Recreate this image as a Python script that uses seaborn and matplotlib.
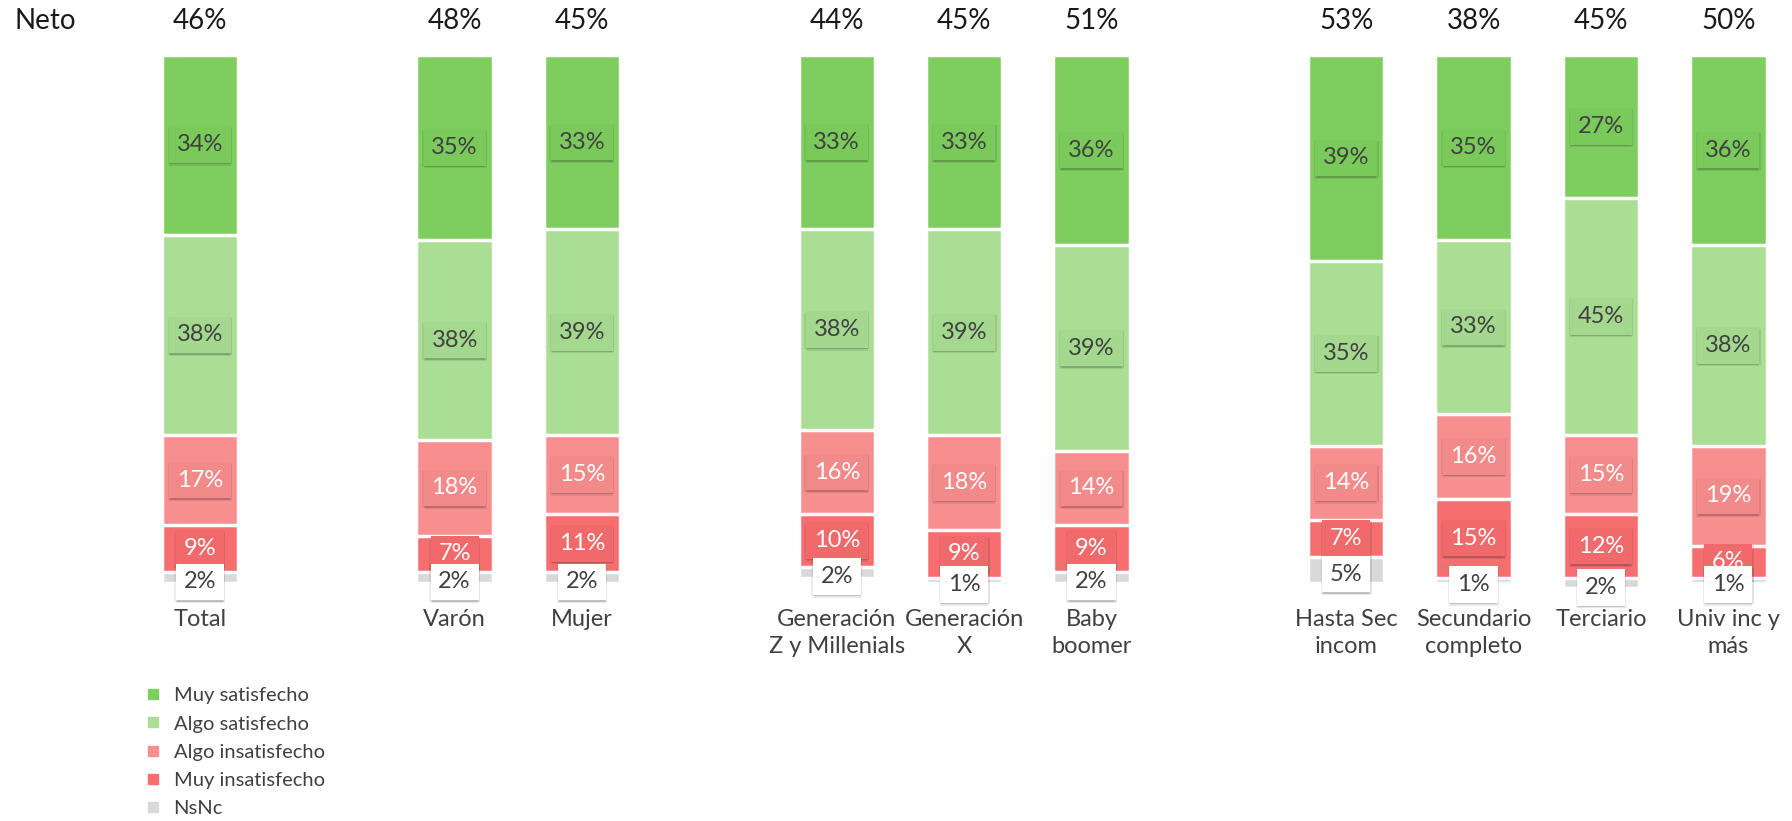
import pandas as pd
import matplotlib.pyplot as plt
import matplotlib.patheffects as pe
from matplotlib.lines import Line2D
import seaborn as sns

sns.set_theme(style="white")
plt.rcParams['font.family'] = ['Lato', 'DejaVu Sans']

# data
categories = ["Total", "Varón", "Mujer",
              "Generación\nZ y Millenials", "Generación\nX", "Baby\nboomer",
              "Hasta Sec\nincom", "Secundario\ncompleto", "Terciario", "Univ inc y\nmás"]
series = ["Muy satisfecho", "Algo satisfecho", "Algo insatisfecho", "Muy insatisfecho", "NsNc"]
muy_satisfecho = [34, 35, 33, 33, 33, 36, 39, 35, 27, 36]
algo_satisfecho = [38, 38, 39, 38, 39, 39, 35, 33, 45, 38]
algo_insatisfecho = [17, 18, 15, 16, 18, 14, 14, 16, 15, 19]
muy_insatisfecho = [9, 7, 11, 10, 9, 9, 7, 15, 12, 6]
nsnc = [2, 2, 2, 2, 1, 2, 5, 1, 2, 1]
neto = ["46%", "48%", "45%", "44%", "45%", "51%", "53%", "38%", "45%", "50%"]

colors = ["#7DCE5E", "#A9DE94", "#F88F8F", "#F66E70", "#D9D9D9"]
text_colors = ["#404040", "#404040", "white", "white", "#404040"]
box_colors = ["#79C95B", "#A4D88F", "#F28A8A", "#F0696B", "white"]

# spacer slots between groups
order = ["Total", " ", "Varón", "Mujer", "  ",
         categories[3], categories[4], categories[5], "   ",
         categories[6], categories[7], categories[8], categories[9]]

df = pd.DataFrame({"cat": categories,
                   series[0]: muy_satisfecho, series[1]: algo_satisfecho,
                   series[2]: algo_insatisfecho, series[3]: muy_insatisfecho,
                   series[4]: nsnc})
cum = df[series].cumsum(axis=1)
for s in series:
    df["cum_" + s] = cum[s]

fig = plt.figure(figsize=(17.92, 8.21), dpi=100)
ax = fig.add_axes([0.076, 0.277, 0.924, 0.656])

# stacked bars: draw deepest cumulative first
for s, c in reversed(list(zip(series, colors))):
    sns.barplot(data=df, x="cat", y="cum_" + s, order=order, color=c,
                width=0.6, edgecolor="white", linewidth=2.5, errorbar=None,
                saturation=1, ax=ax)

ax.set_ylim(102, 0)
ax.set_xlim(-0.5, 12.5)

shadow = [pe.SimplePatchShadow(offset=(0, -2), shadow_rgbFace="k", alpha=0.10),
          pe.SimplePatchShadow(offset=(1, -1), shadow_rgbFace="k", alpha=0.12),
          pe.SimplePatchShadow(offset=(-1, -1), shadow_rgbFace="k", alpha=0.08),
          pe.Normal()]

# segment labels
for i, cat in enumerate(categories):
    x = order.index(cat)
    for j, s in enumerate(series):
        v = df.loc[i, s]
        mid = df.loc[i, "cum_" + s] - v / 2
        if s == "NsNc":
            mid += 0.8
        t = ax.text(x, mid, f"{v}%", ha="center", va="center", fontsize=17,
                    color=text_colors[j],
                    bbox=dict(boxstyle="square,pad=0.33", fc=box_colors[j], ec="none"))
        t.get_bbox_patch().set_path_effects(shadow)
    ax.text(x, -6.5, neto[i], ha="center", va="center", fontsize=20, color="#1a1a1a")

fig.text(0.008, 1 - 21 / 821, "Neto", ha="left", va="center", fontsize=20, color="#1a1a1a")

ax.set_xlabel("")
ax.set_ylabel("")
ax.set_yticks([])
ax.set_xticks(range(len(order)), order, linespacing=1.35)
ax.tick_params(axis="x", length=0, pad=11, labelsize=17, labelcolor="#404040")
sns.despine(ax=ax, left=True, bottom=True)

handles = [Line2D([], [], marker="s", linestyle="none", markersize=7,
                  markerfacecolor=c, markeredgecolor=c) for c in colors]
fig.legend(handles, series, loc="upper left", bbox_to_anchor=(0.071, 0.185),
           frameon=False, fontsize=14.5, handlelength=0.8, handletextpad=0.6,
           labelspacing=0.55, labelcolor="#404040")

plt.savefig("out.png", dpi=100)
